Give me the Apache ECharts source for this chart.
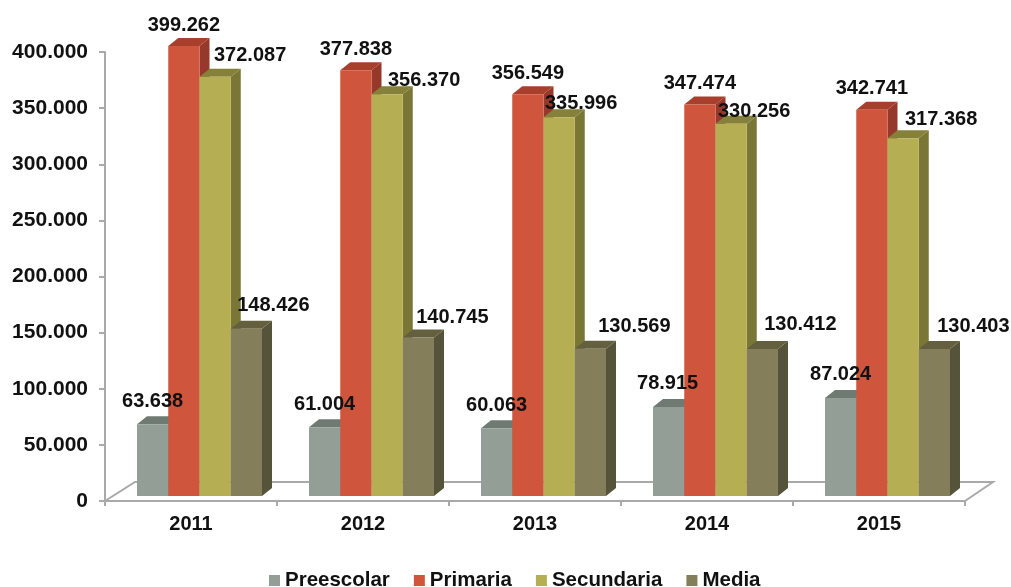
<!DOCTYPE html>
<html>
<head>
<meta charset="utf-8">
<style>
html, body { margin: 0; padding: 0; background: #fff; }
#chart { width: 1011px; height: 587px; }
</style>
<script src="https://cdn.jsdelivr.net/npm/echarts@6/dist/echarts.min.js"></script>
</head>
<body>
<div id="chart"></div>
<script>
const years = ['2011', '2012', '2013', '2014', '2015'];
const preescolar = [63638, 61004, 60063, 78915, 87024];
const primaria = [399262, 377838, 356549, 347474, 342741];
const secundaria = [372087, 356370, 335996, 330256, 317368];
const media = [148426, 140745, 130569, 130412, 130403];

// label placement, relative to the bar's top centre
const nudgePreescolar = [[0, -23], [0, -23], [0, -23], [-1, -24], [0, -23]];
const nudgePrimaria = [[0, -21], [0, -21], [0, -21], [0, -21], [0, -21]];
const nudgeSecundaria = [[35, -21], [37, -14], [22, -14], [23, -12], [38, -19]];
const nudgeMedia = [[27, -23], [34, -20], [44, -22], [38, -25], [39, -23]];

const FONT_FAMILY = '"Liberation Sans", Arial, sans-serif';
const FONT = 'bold 20px ' + FONT_FAMILY;
const DEPTH_X = 10, DEPTH_Y = 8;   // bar depth
const BAR_SHIFT_Y = 5;             // bars stand a little back on the floor
const BAR_STRETCH = 1.004;         // front plane is a bit nearer than the axis
const BAR_W = 31.25;
const GROUP_LEFT = -54;            // first bar, from the category centre

function fmt(v) {
    return String(v).replace(/\B(?=(\d{3})+$)/g, '.');
}

function barSeries(name, values, nudge, slot, front, top, side) {
    return {
        name: name,
        type: 'custom',
        coordinateSystem: 'cartesian2d',
        itemStyle: { color: front },
        data: values.map((v, i) => [i, v]),
        encode: { x: 0, y: 1 },
        z: 3,
        renderItem: function (params, api) {
            let i = api.value(0), v = api.value(1);
            let c = api.coord([i, v]);
            let base = api.coord([i, 0]);
            let x = c[0] + GROUP_LEFT + slot * BAR_W;
            let y1 = base[1] - BAR_SHIFT_Y;
            let y0 = y1 - (base[1] - c[1]) * BAR_STRETCH;
            let n = nudge[i];
            return {
                type: 'group',
                children: [
                    {
                        type: 'polygon',
                        shape: { points: [[x + BAR_W, y0], [x + BAR_W + DEPTH_X, y0 - DEPTH_Y], [x + BAR_W + DEPTH_X, y1 - DEPTH_Y], [x + BAR_W, y1]] },
                        style: { fill: side }
                    },
                    {
                        type: 'polygon',
                        shape: { points: [[x, y0], [x + DEPTH_X, y0 - DEPTH_Y], [x + BAR_W + DEPTH_X, y0 - DEPTH_Y], [x + BAR_W, y0]] },
                        style: { fill: top }
                    },
                    {
                        type: 'rect',
                        shape: { x: x, y: y0, width: BAR_W, height: y1 - y0 },
                        style: { fill: front }
                    },
                    {
                        type: 'text',
                        z2: 100,
                        x: x + BAR_W / 2 + n[0],
                        y: y0 + n[1],
                        style: { text: fmt(v), font: FONT, fill: '#111', textAlign: 'center', textVerticalAlign: 'middle' }
                    }
                ]
            };
        }
    };
}

// floor of the 3d plot, behind the bars
const floorSeries = {
    name: 'floor',
    type: 'custom',
    coordinateSystem: 'cartesian2d',
    silent: true,
    data: [[0, 0]],
    z: 1,
    renderItem: function (params, api) {
        let o = api.coord([0, 0]);
        let w = api.size([1, 0])[0];
        let left = o[0] - w / 2, right = o[0] + w * 4.5;
        return {
            type: 'polyline',
            shape: { points: [[left, o[1]], [left + 30, o[1] - 19], [right + 28, o[1] - 19], [right, o[1]]] },
            style: { fill: 'none', stroke: '#a9a9a9', lineWidth: 2 }
        };
    }
};

let chart = echarts.init(document.getElementById('chart'), null, { renderer: 'canvas' });
chart.setOption({
    animation: false,
    backgroundColor: '#fff',
    grid: { left: 105, right: 46, top: 52, bottom: 86 },
    legend: {
        data: ['Preescolar', 'Primaria', 'Secundaria', 'Media'],
        left: 269,
        top: 570,
        padding: 0,
        itemWidth: 11,
        itemHeight: 11,
        itemGap: 24,
        icon: 'rect',
        textStyle: { color: '#111', fontWeight: 'bold', fontSize: 20.5, fontFamily: FONT_FAMILY }
    },
    xAxis: {
        type: 'category',
        data: years,
        axisLine: { lineStyle: { color: '#a9a9a9', width: 2 } },
        axisTick: { show: true, length: 5, alignWithLabel: false, lineStyle: { color: '#a9a9a9', width: 2 } },
        axisLabel: { color: '#111', fontWeight: 'bold', fontSize: 20, fontFamily: FONT_FAMILY, margin: 13 }
    },
    yAxis: {
        type: 'value',
        min: 0,
        max: 400000,
        interval: 50000,
        splitLine: { show: false },
        axisLine: { show: true, lineStyle: { color: '#a9a9a9', width: 2 } },
        axisTick: { show: true, length: 6, lineStyle: { color: '#a9a9a9', width: 2 } },
        axisLabel: {
            color: '#111', fontWeight: 'bold', fontSize: 21, fontFamily: FONT_FAMILY, margin: 17,
            padding: [3, 0, 0, 0],
            formatter: fmt
        }
    },
    series: [
        floorSeries,
        barSeries('Preescolar', preescolar, nudgePreescolar, 0, '#939f96', '#6f7b72', '#6a756d'),
        barSeries('Primaria', primaria, nudgePrimaria, 1, '#cf563c', '#a83f2c', '#96392a'),
        barSeries('Secundaria', secundaria, nudgeSecundaria, 2, '#b5ae52', '#85813a', '#7a7636'),
        barSeries('Media', media, nudgeMedia, 3, '#847f5a', '#64603f', '#55533a')
    ]
});
</script>
</body>
</html>
